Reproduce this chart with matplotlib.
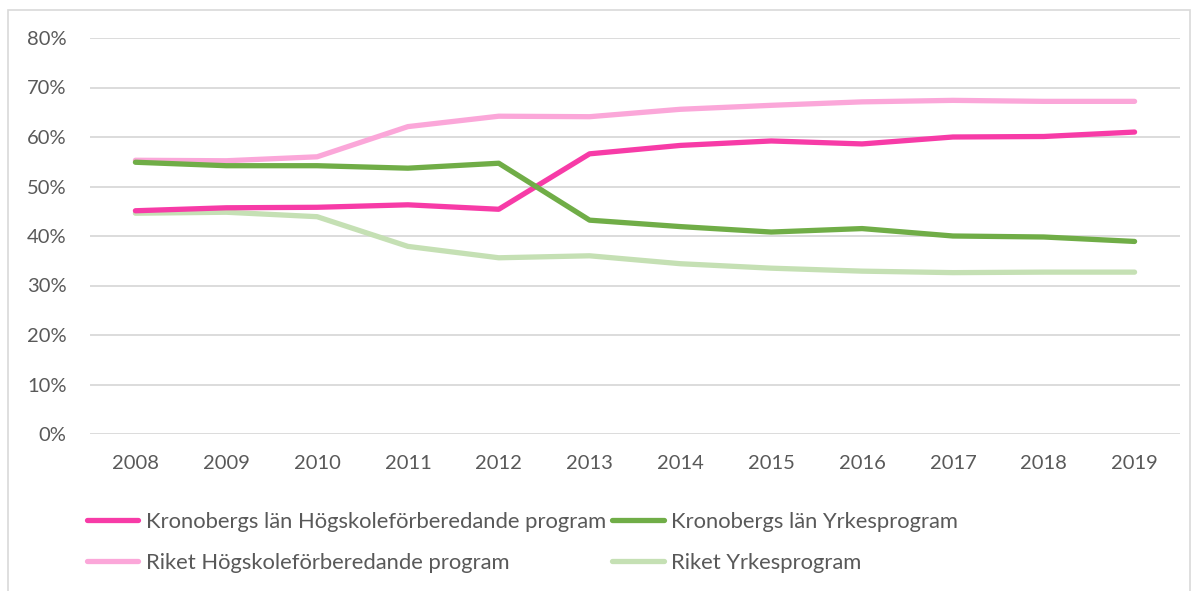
import matplotlib
matplotlib.use("Agg")
import matplotlib.pyplot as plt
from matplotlib.patches import Rectangle
from matplotlib.ticker import PercentFormatter

years = ["2008", "2009", "2010", "2011", "2012", "2013",
         "2014", "2015", "2016", "2017", "2018", "2019"]

kron_hog = [45.1, 45.7, 45.8, 46.3, 45.4, 56.6, 58.3, 59.2, 58.6, 60.0, 60.1, 61.0]
kron_yrk = [54.9, 54.2, 54.2, 53.7, 54.7, 43.2, 41.9, 40.8, 41.5, 40.0, 39.8, 38.9]
riket_hog = [55.3, 55.2, 56.0, 62.1, 64.2, 64.1, 65.6, 66.4, 67.1, 67.4, 67.2, 67.2]
riket_yrk = [44.6, 44.8, 43.9, 37.9, 35.6, 36.0, 34.4, 33.5, 32.9, 32.6, 32.7, 32.7]

labels = ["Kronobergs län Högskoleförberedande program",
          "Kronobergs län Yrkesprogram",
          "Riket Högskoleförberedande program",
          "Riket Yrkesprogram"]
colors = ["#F73BA7", "#70AD47", "#FBA7D9", "#C5E0B4"]

plt.rcParams["font.family"] = ["Lato", "DejaVu Sans"]
TXT = "#595959"

fig = plt.figure(figsize=(11.98, 5.91), dpi=100)
ax = fig.add_axes([90 / 1198, 1 - 434 / 591, 1090 / 1198, 396 / 591])

x = list(range(len(years)))
series = [kron_hog, kron_yrk, riket_hog, riket_yrk]
handles = {}
# light "Riket" lines first so the Kronoberg lines sit on top
for i in (2, 3, 0, 1):
    ln, = ax.plot(x, series[i], color=colors[i], lw=3.8,
                  solid_capstyle="round", label=labels[i], zorder=3 + (i < 2))
    handles[i] = ln

ax.set_xlim(-0.5, len(years) - 0.5)
ax.set_ylim(0, 80)
ax.set_yticks(range(0, 81, 10))
ax.yaxis.set_major_formatter(PercentFormatter(decimals=0))
ax.set_xticks(x)
ax.set_xticklabels(years)
ax.grid(axis="y", color="#D9D9D9", lw=1.3)
ax.set_axisbelow(True)
for s in ax.spines.values():
    s.set_visible(False)
ax.tick_params(length=0, labelsize=14.5, colors=TXT)
ax.tick_params(axis="x", pad=15)
ax.tick_params(axis="y", pad=17)

order = [0, 2, 1, 3]
fig.legend([handles[i] for i in order], [labels[i] for i in order],
           ncol=2, loc="upper left", bbox_to_anchor=(67 / 1198, 1 - 492 / 591),
           frameon=False, fontsize=15.8, handlelength=2.35, handletextpad=0.36,
           columnspacing=0.25, labelspacing=0.95, labelcolor=TXT)

fig.patches.append(Rectangle((8 / 1198, -0.05), 1182 / 1198, 1.05 - 10 / 591,
                             transform=fig.transFigure, fill=False,
                             edgecolor="#D9D9D9", lw=1.2))

fig.savefig("out.png", dpi=100)
